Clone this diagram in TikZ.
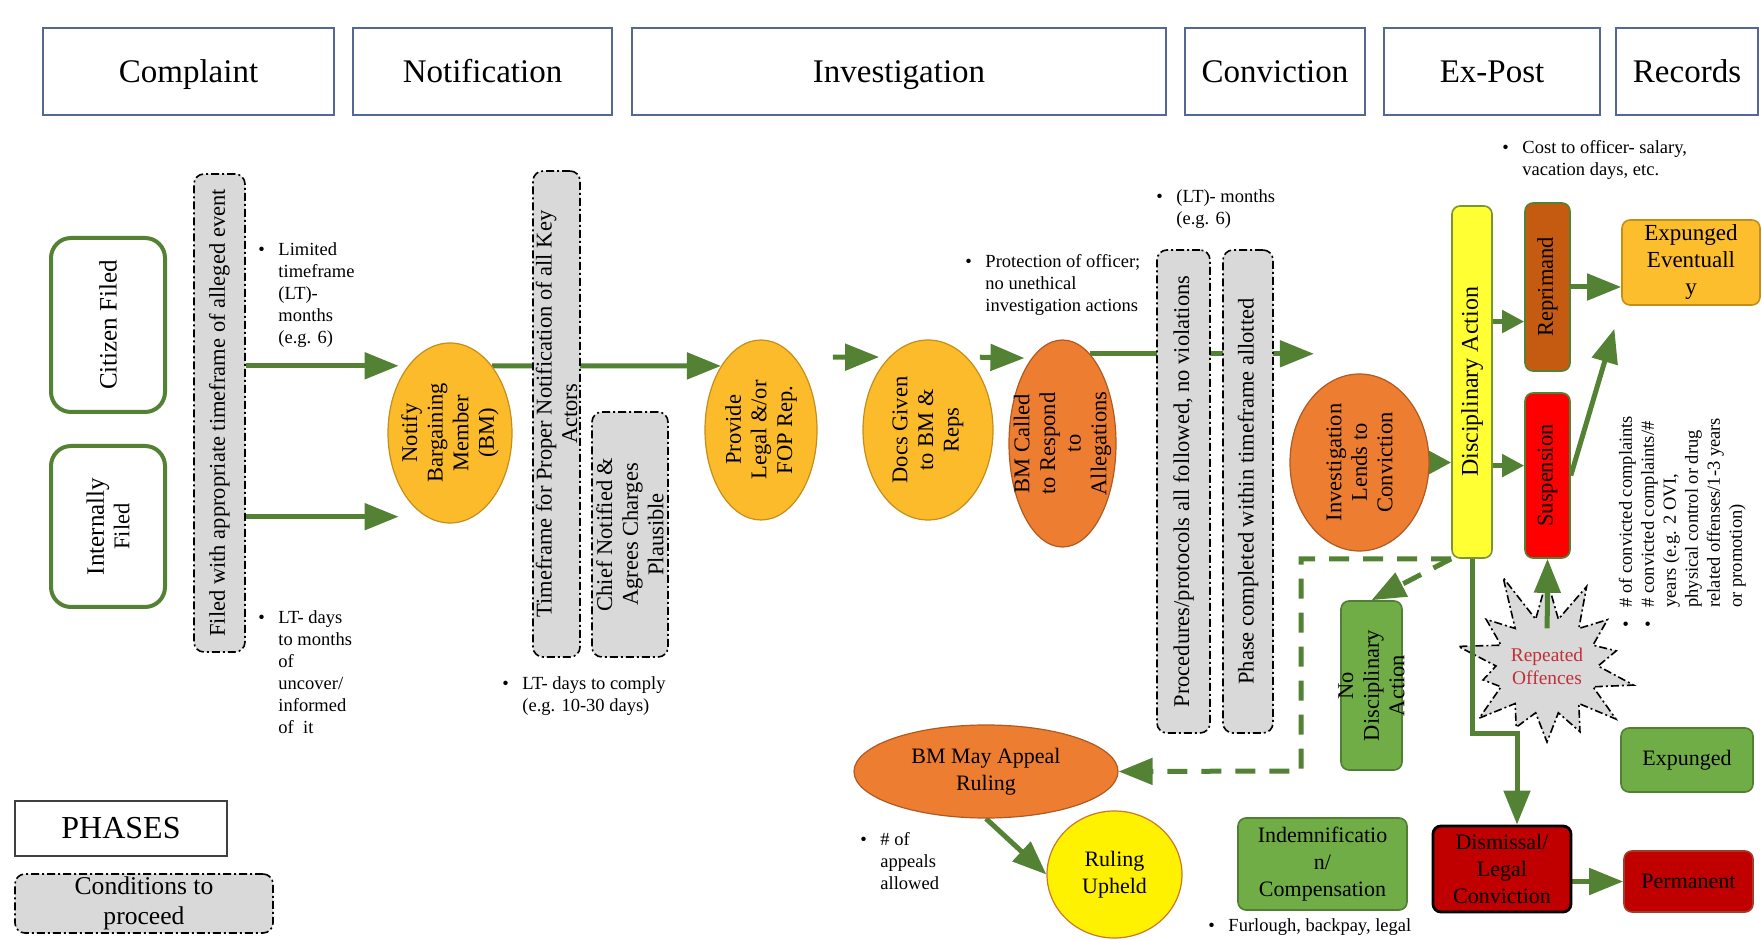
\documentclass[tikz,border=0pt]{standalone}
\usepackage{fontspec}
\setmainfont{Liberation Serif}
\usetikzlibrary{shapes.geometric, shapes.symbols, positioning, arrows.meta, calc}

\pgfdeclarelayer{background}
\pgfsetlayers{background,main}

\definecolor{phaseblue}{RGB}{84,104,150}
\definecolor{arrowgreen}{RGB}{84,130,53}
\definecolor{boxgreen}{RGB}{112,173,71}
\definecolor{boxgreenline}{RGB}{80,126,50}
\definecolor{ovalgold}{RGB}{252,187,42}
\definecolor{goldline}{RGB}{196,142,24}
\definecolor{amber}{RGB}{253,190,45}
\definecolor{orangefill}{RGB}{237,125,49}
\definecolor{orangeline}{RGB}{174,90,33}
\definecolor{condgray}{RGB}{217,217,217}
\definecolor{brightyellow}{RGB}{255,255,51}
\definecolor{discline}{RGB}{120,150,50}
\definecolor{rustbrown}{RGB}{197,90,17}
\definecolor{darkred}{RGB}{192,0,0}
\definecolor{permline}{RGB}{160,60,40}
\definecolor{rulingline}{RGB}{200,120,40}
\definecolor{offencered}{RGB}{192,48,56}

\newcommand{\bulletlist}[1]{\begin{tabular}[t]{@{}l@{\hspace{6.8pt}}l@{}}#1\end{tabular}}

\begin{document}
\begin{tikzpicture}[x=0.5pt, y=-0.5pt,
    phase/.style={draw=phaseblue, line width=1pt, fill=white, minimum height=43.5pt,
                  inner sep=0pt, text height=13pt, text depth=2pt, font=\fontsize{16.5}{19}\selectfont},
    source/.style={draw=arrowgreen, line width=2pt, fill=white, rounded corners=10pt, inner sep=0pt},
    cond/.style={draw=black, fill=condgray, line width=0.8pt, rounded corners=5pt, inner sep=0pt,
                 dash pattern=on 4pt off 1.5pt on 1pt off 1.5pt},
    oval/.style={ellipse, draw=goldline, fill=ovalgold, line width=0.6pt, inner sep=0pt},
    hotoval/.style={oval, draw=orangeline, fill=orangefill},
    tile/.style={rectangle, line width=0.8pt, rounded corners=4pt, inner sep=0pt, align=center,
                 font=\fontsize{11}{13.3}\selectfont},
    outcome/.style={tile, draw=boxgreenline, fill=boxgreen},
    vtext/.style={label={[rotate=90, align=center, inner sep=0pt,
                  font=\fontsize{11.25}{12.8}\selectfont]center:#1}},
    note/.style={anchor=north west, inner sep=0pt, font=\fontsize{9.25}{11}\selectfont},
    flow/.style={draw=arrowgreen, line width=2.5pt, -{Triangle[length=17pt, width=13pt]}},
    nub/.style={flow, -{Triangle[length=11pt, width=11pt]}},
    dashflow/.style={flow, dash pattern=on 10pt off 7pt}]
  \useasboundingbox (0,0) rectangle (1762,940);

  % phases along the top
  \node[phase, minimum width=145.5pt] (complaint) at (188.5,71.5) {Complaint};
  \node[phase, minimum width=129.5pt, right=8.5pt of complaint] (notification) {Notification};
  \node[phase, minimum width=267pt, right=9pt of notification] (investigation) {Investigation};
  \node[phase, minimum width=90pt, right=8.5pt of investigation] (conviction) {Conviction};
  \node[phase, minimum width=108pt, right=8.5pt of conviction] (expost) {Ex-Post};
  \node[phase, minimum width=71pt, right=7pt of expost] (records) {Records};

  % where a complaint comes from
  \node[source, minimum width=57pt, minimum height=87pt,
        vtext={\fontsize{12.5}{14.5}\selectfont Citizen Filed}] (citizen) at (108,325) {};
  \node[source, minimum width=57pt, minimum height=80.5pt,
        vtext={\fontsize{12.5}{14.5}\selectfont Internally\\Filed}] (internal) at (108,526.5) {};

  % conditions to proceed
  \node[cond, minimum width=25.5pt, minimum height=239pt,
        vtext={Filed with appropriate timeframe of alleged event}] (filed) at (219.5,413) {};
  \node[cond, minimum width=23.5pt, minimum height=243pt,
        vtext={Timeframe for Proper Notification of all Key\\Actors}] (keyactors) at (556.5,414) {};
  \node[cond, minimum width=38pt, minimum height=122.5pt,
        vtext={Chief Notified \&\\Agrees Charges\\Plausible}] (chief) at (630,534.5) {};
  \node[cond, minimum width=26.5pt, minimum height=241.5pt,
        vtext={Procedures/protocols all followed, no violations}] (protocols) at (1183.5,491.5) {};
  \node[cond, minimum width=25pt, minimum height=241.5pt,
        vtext={Phase completed within timeframe allotted}] (allotted) at (1248,491.5) {};

  % notification and investigation steps
  \node[oval, minimum width=62pt, minimum height=90pt,
        vtext={Notify\\Bargaining\\Member\\(BM)}] (notify) at (450,433) {};
  \node[oval, minimum width=56pt, minimum height=90pt,
        vtext={Provide\\Legal \&/or\\FOP Rep.}] (provide) at (761,430) {};
  \node[oval, minimum width=65pt, minimum height=90pt,
        vtext={Docs Given\\to BM \&\\Reps}] (docs) at (928,430) {};
  \node[hotoval, minimum width=53.5pt, minimum height=103.5pt,
        vtext={BM Called\\to Respond\\to\\Allegations}] (called) at (1062.5,443.5) {};
  \node[hotoval, minimum width=69.5pt, minimum height=88.5pt,
        vtext={Investigation\\Lends to\\Conviction}] (lends) at (1359.5,462.5) {};

  % conviction and ex-post
  \node[tile, draw=discline, fill=brightyellow, minimum width=20pt, minimum height=176pt,
        vtext={\fontsize{12}{14}\selectfont Disciplinary Action}] (disc) at (1472,382) {};
  \node[tile, draw=arrowgreen, fill=rustbrown, minimum width=22.5pt, minimum height=84pt,
        vtext=Reprimand] (reprimand) at (1547.5,287) {};
  \node[tile, draw=arrowgreen, fill=red, minimum width=22.5pt, minimum height=82.5pt,
        vtext=Suspension] (suspension) at (1547.5,475.5) {};
  \node[outcome, minimum width=30.5pt, minimum height=84.5pt,
        vtext={No\\Disciplinary\\Action}] (nodisc) at (1371.5,685.5) {};
  \node[outcome, minimum width=84.5pt, minimum height=46pt] (indemnity) at (1322.5,864)
        {Indemnificatio\\n/\\Compensation};
  \node[tile, draw=black, line width=1.4pt, fill=darkred, minimum width=69pt, minimum height=43pt]
        (dismissal) at (1502,869) {Dismissal/\\Legal\\Conviction};

  % records
  \node[tile, draw=goldline, fill=amber, minimum width=69pt, minimum height=42.5pt,
        font=\fontsize{11.5}{13.5}\selectfont] (eventually) at (1691,262.5) {Expunged\\Eventuall\\y};
  \node[outcome, minimum width=66pt, minimum height=32pt] (expunged) at (1687,760) {Expunged};
  \node[tile, draw=permline, fill=darkred, minimum width=64.5pt, minimum height=30.5pt]
        (permanent) at (1688.5,881.5) {Permanent};

  % appeal
  \node[hotoval, minimum width=132pt, minimum height=46.5pt, align=center,
        font=\fontsize{11}{13.5}\selectfont] (appeal) at (986,771.5) {BM May Appeal\\Ruling};
  \node[oval, draw=rulingline, fill=yellow, minimum width=67.5pt, minimum height=63.5pt, align=center,
        font=\fontsize{11}{13.3}\selectfont] (upheld) at (1114.5,874.5) {Ruling\\Upheld};

  % repeated offences
  \node[starburst, starburst points=14, starburst point height=26pt, random starburst=11,
        draw=black, line width=0.8pt, dash pattern=on 4pt off 1.5pt on 1pt off 1.5pt,
        fill=condgray, minimum width=98pt, minimum height=100pt, inner sep=0pt, align=center,
        text=offencered, font=\fontsize{9.7}{11.5}\selectfont] (repeat) at (1547,666) {Repeated\\Offences};

  % legend
  \node[draw=black!75, line width=0.8pt, minimum width=106pt, minimum height=27.5pt, inner sep=0pt,
        font=\fontsize{16}{19}\selectfont] (phaselegend) at (121,828.5) {PHASES};
  \node[cond, minimum width=129pt, minimum height=29.5pt, align=center,
        font=\fontsize{12.8}{15}\selectfont] (condlegend) at (144,903.5) {Conditions to\\proceed};

  % notes
  \node[note] (limited) at (258,240) {\bulletlist{\textbullet & Limited\\ & timeframe\\ & (LT)-\\ & months\\ & (e.g. 6)}};
  \node[note] (uncover) at (258,608) {\bulletlist{\textbullet & LT- days\\ & to months\\ & of\\ & uncover/\\ & informed\\ & of\ \ it}};
  \node[note] (comply) at (502,674) {\bulletlist{\textbullet & LT- days to comply\\ & (e.g. 10-30 days)}};
  \node[note] (protect) at (965,252) {\bulletlist{\textbullet & Protection of officer;\\ & no unethical\\ & investigation actions}};
  \node[note] (months) at (1156,187) {\bulletlist{\textbullet & (LT)- months\\ & (e.g. 6)}};
  \node[note] (cost) at (1502,138) {\bulletlist{\textbullet & Cost to officer- salary,\\ & vacation days, etc.}};
  \node[note] (appeals) at (860,830) {\bulletlist{\textbullet & \# of\\ & appeals\\ & allowed}};
  \node[note] (furlough) at (1208,916) {\bulletlist{\textbullet & Furlough, backpay, legal}};
  \node[note, rotate=90] (tally) at (1616,628) {\bulletlist{\textbullet & \# of convicted complaints\\
        \textbullet & \# convicted complaints/\#\\ & years (e.g. 2 OVI,\\ & physical control or drug\\
        & related offenses/1-3 years\\ & or promotion)}};

  \coordinate (notifyleft) at ($(notify.west)!0.09!(notify.east)$);
  \coordinate (lendstop) at ($(lends.west)!0.35!(lends.north)$);
  \coordinate (dcorner) at (1301,771);
  \coordinate (sbend) at (1517,733);

  % connectors behind the boxes
  \begin{pgfonlayer}{background}
    \draw[flow] (filed.east |- notify.122) -- (notify.122 -| notifyleft);
    \draw[flow] (filed.east |- notify.254) -- (notify.254 -| notifyleft);
    \draw[flow] (notify.58) -- (provide.122);
    \draw[flow, shorten <=19pt, shorten >=5pt] (provide.65) -- (docs.118);
    \draw[flow, shorten <=6.5pt, shorten >=3.5pt] (docs.62) -- (called.110);
    \draw[flow] (called.73) -- (called.73 -| lendstop);
    \draw[nub] (lends) -- (lends -| disc.west);
    \draw[nub] (disc.east |- reprimand.236) -- (reprimand.236);
    \draw[nub] (disc.east |- suspension.157) -- (suspension.157);
    \draw[flow] (reprimand.east) -- (reprimand.east -| eventually.west);
    \draw[flow, shorten >=12pt] (suspension.east) -- (eventually.south west);
    \draw[dashflow] (disc.south west) -| (dcorner) -- (appeal.east);
    \draw[dashflow] (disc.south west) -- (nodisc.north);
    \draw[flow] (appeal.south) -- (upheld.west);
    \draw[flow] (dismissal.east |- permanent) -- (permanent.west);
  \end{pgfonlayer}
  \draw[flow] (disc.south) |- (sbend) -- (sbend |- dismissal.north);
  \draw[flow] ($(repeat.center)!0.35!(suspension.south)$) -- (suspension.south);
\end{tikzpicture}
\end{document}
